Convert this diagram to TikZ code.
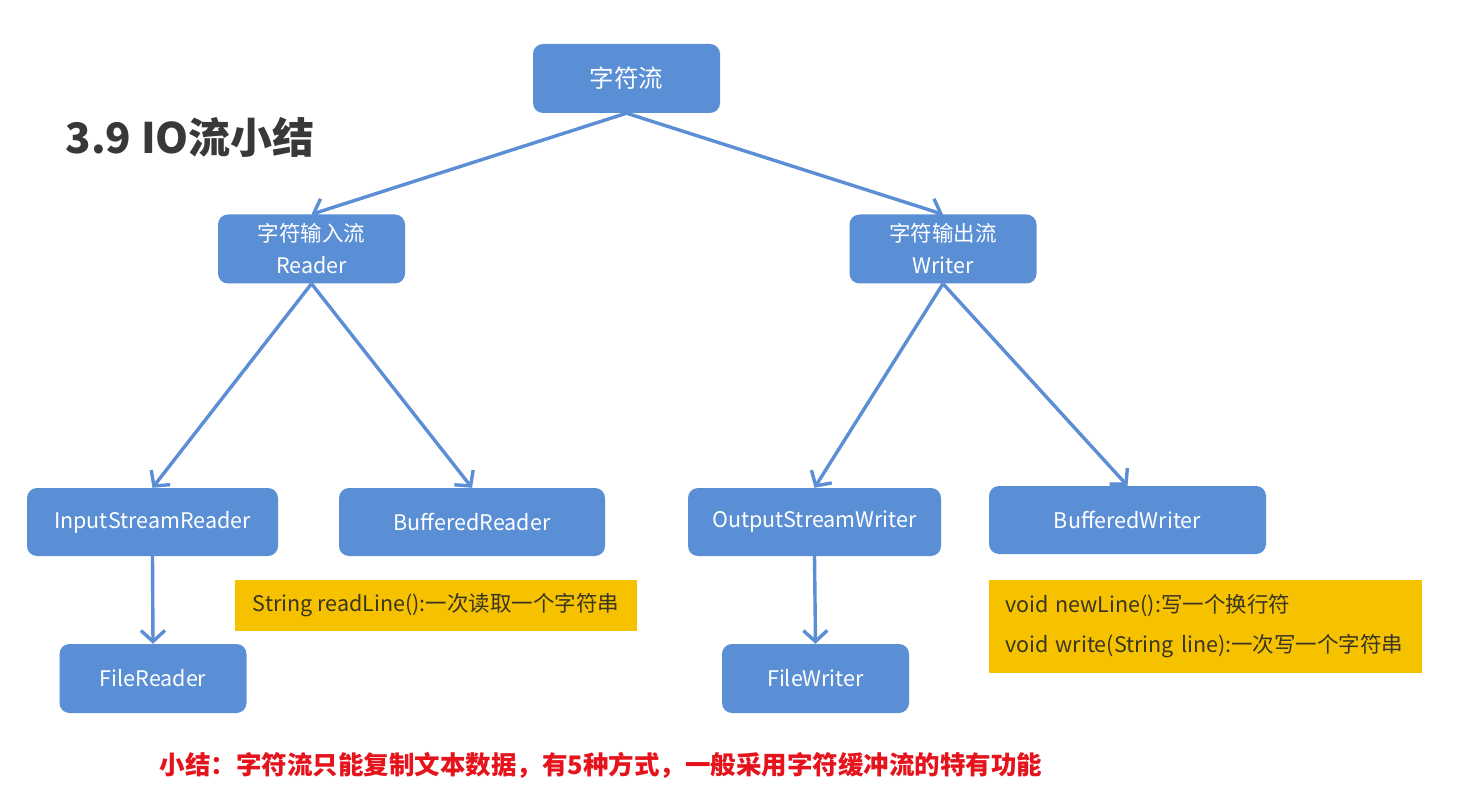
\documentclass[tikz,border=0pt]{standalone}
\usepackage{fontspec}
\setmainfont{Noto Sans CJK SC}
\usetikzlibrary{arrows.meta}
\definecolor{boxblue}{HTML}{5B8FD5}
\definecolor{lineblue}{HTML}{5B8ED4}
\definecolor{noteyellow}{HTML}{F6C200}
\definecolor{notetext}{HTML}{3A3520}
\definecolor{titlegray}{HTML}{383838}
\definecolor{notered}{HTML}{E5141C}
\begin{document}
\begin{tikzpicture}[x=1pt,y=-1pt,
  bluebox/.style={draw=none,fill=boxblue,rounded corners=10pt,text=white,
    minimum width=187pt,minimum height=69pt,inner sep=0pt,align=center,
    font=\fontsize{21.5}{32}\selectfont},
  notebox/.style={draw=none,fill=noteyellow,text=notetext,inner sep=0pt,
    font=\fontsize{21.5}{40}\selectfont},
  link/.style={draw=lineblue,line width=3.4pt,
    -{Straight Barb[length=11pt,width=24pt,line width=3.4pt]}}]
\useasboundingbox (0,0) rectangle (1472,802);
\fill[white] (0,0) rectangle (1472,802);

\node[anchor=west,text=titlegray,font=\fontsize{42}{44}\selectfont\bfseries] (title) at (62,137) {3.9 IO流小结};

\node[bluebox,font=\fontsize{24.5}{28}\selectfont] (root) at (626.5,78.5) {字符流};
\node[bluebox] (reader) at (311.5,249) {字符输入流\\Reader};
\node[bluebox] (writer) at (943,249) {字符输出流\\Writer};
\node[bluebox,minimum width=251pt,minimum height=68pt] (isr) at (152.5,522) {InputStreamReader};
\node[bluebox,minimum width=266pt,minimum height=68pt] (br) at (472,522) {BufferedReader};
\node[bluebox,minimum width=253pt,minimum height=68pt] (osw) at (814.5,522) {OutputStreamWriter};
\node[bluebox,minimum width=277pt,minimum height=68pt] (bw) at (1127.5,520) {BufferedWriter};
\node[bluebox] (fr) at (153,678.5) {FileReader};
\node[bluebox] (fw) at (815.5,678.5) {FileWriter};

\node[notebox,minimum width=402pt,minimum height=51pt] (note1) at (436,605.5) {String readLine():一次读取一个字符串};
\node[notebox,minimum width=433pt,minimum height=93pt,text width=401pt,align=left] (note2) at (1205.5,626.5) {void newLine():写一个换行符\\void write(String line):一次写一个字符串};

\node[text=notered,font=\fontsize{25.5}{28}\selectfont\bfseries] (summary) at (601,765) {小结：字符流只能复制文本数据，有5种方式，一般采用字符缓冲流的特有功能};

\draw[link] (root.south) -- (reader.north);
\draw[link] (root.south) -- (writer.north);
\draw[link] (reader.south) -- (isr.north);
\draw[link] (reader.south) -- (br.north);
\draw[link] (writer.south) -- (osw.north);
\draw[link] (writer.south) -- (bw.north);
\draw[link] (isr.south) -- (fr.north);
\draw[link] (osw.south) -- (fw.north);
\end{tikzpicture}
\end{document}
